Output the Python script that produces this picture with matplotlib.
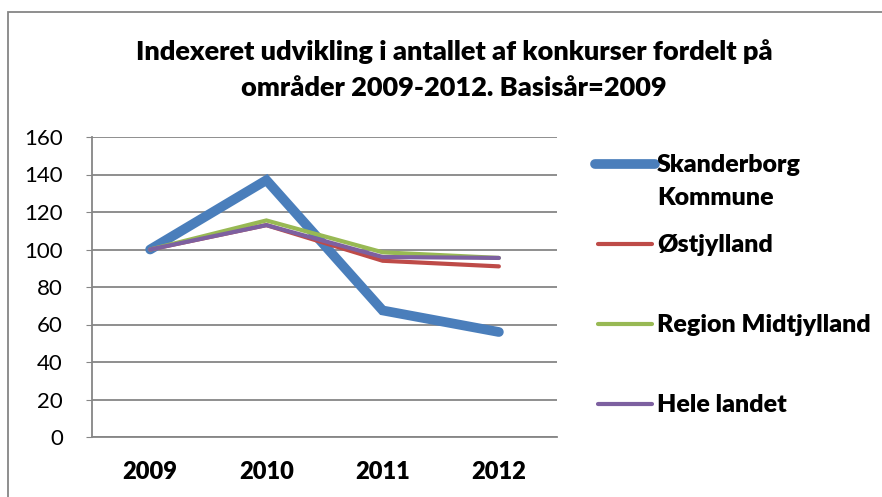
import matplotlib.pyplot as plt
from matplotlib.lines import Line2D
from matplotlib.patches import Rectangle

years = ['2009', '2010', '2011', '2012']
skanderborg = [100, 137, 67.5, 56]
oestjylland = [100, 113, 94, 91]
region_midt = [100, 115.5, 98.5, 95.5]
hele_landet = [100, 113, 96, 95.5]

names = [['Skanderborg', 'Kommune'], ['Østjylland'], ['Region Midtjylland'], ['Hele landet']]
colors = ['#4A7EBB', '#BE4B48', '#98B954', '#7D60A0']
widths = [7, 3, 3, 3]

plt.rcParams['font.family'] = ['Lato', 'DejaVu Sans']

fig = plt.figure(figsize=(8.82, 4.97), dpi=100)
W, H = 882, 497
ax = fig.add_axes([92 / W, 1 - 437 / H, (557 - 92) / W, 300 / H])

series = [skanderborg, oestjylland, region_midt, hele_landet]
x = [i + 0.5 for i in range(len(years))]
for s, c, lw in zip(series, colors, widths):
    ax.plot(x, s, color=c, lw=lw, solid_capstyle='round', solid_joinstyle='miter')

ax.set_xlim(0, 4)
ax.set_ylim(0, 160)
ax.set_yticks(range(0, 161, 20))
ax.set_xticks(x)
ax.set_xticklabels(years, fontweight='heavy', fontsize=17)
ax.tick_params(axis='x', length=0, pad=17)
ax.tick_params(axis='y', length=4, color='#868686', labelsize=16, pad=17)
ax.grid(axis='y', color='#868686', lw=1.3)
ax.set_axisbelow(True)
for side in ['top', 'right']:
    ax.spines[side].set_visible(False)
for side in ['left', 'bottom']:
    ax.spines[side].set_color('#868686')
    ax.spines[side].set_linewidth(1.3)

fig.text(454 / W, 1 - 52 / H, 'Indexeret udvikling i antallet af konkurser fordelt på',
         ha='center', va='center', fontsize=19.5, fontweight='heavy')
fig.text(454 / W, 1 - 88 / H, 'områder 2009-2012. Basisår=2009',
         ha='center', va='center', fontsize=19.5, fontweight='heavy')

# legend
leg_y = [164, 244, 324, 404]
for name, c, lw, yy in zip(names, colors, widths, leg_y):
    x0 = 595 if lw > 3 else 598
    x1 = 655 if lw > 3 else 652
    fig.add_artist(Line2D([x0 / W, x1 / W], [1 - yy / H, 1 - yy / H], color=c, lw=lw,
                          solid_capstyle='round'))
    for k, line in enumerate(name):
        fig.text(657 / W, 1 - (yy + 1 + 33 * k) / H, line, ha='left', va='center',
                 fontsize=18, fontweight='heavy')

# outer chart border
fig.add_artist(Rectangle((8 / W, -0.1), 1.2, 1 - 12 / H + 0.1, transform=fig.transFigure,
                         fill=False, edgecolor='#868686', lw=1.3))

fig.savefig('out.png', dpi=100)
